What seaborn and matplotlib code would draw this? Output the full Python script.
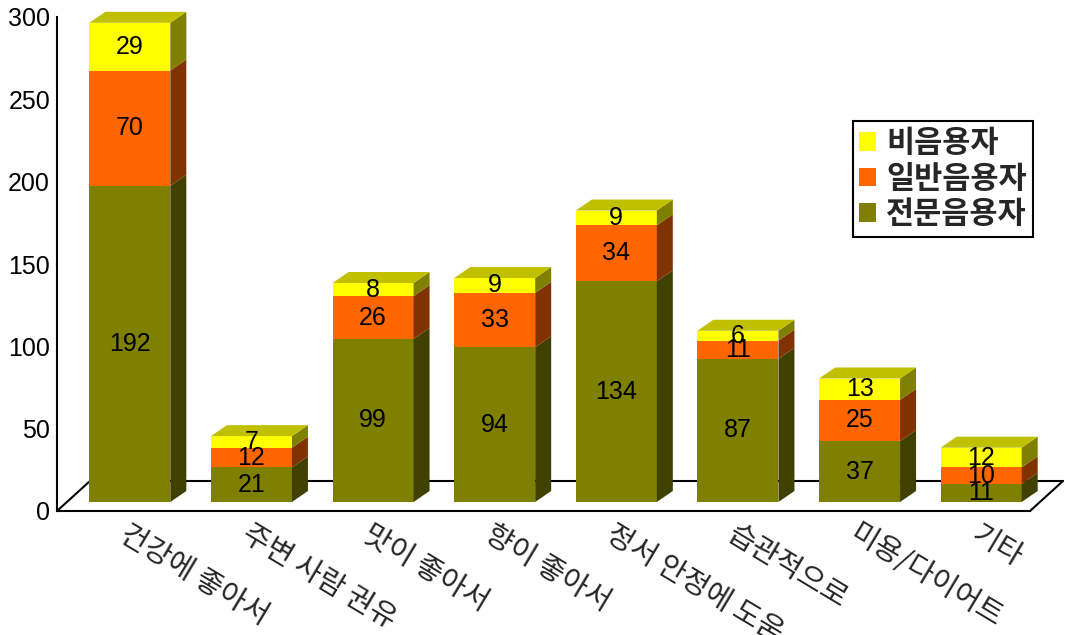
import numpy as np
import pandas as pd
import matplotlib
matplotlib.use("Agg")
import matplotlib.pyplot as plt
import matplotlib.transforms as mtransforms
from matplotlib.patches import Polygon, Patch
from matplotlib.lines import Line2D
import seaborn as sns

# ---- data -------------------------------------------------------------
categories = ["건강에 좋아서", "주변 사람 권유", "맛이 좋아서", "향이 좋아서",
              "정서 안정에 도움", "습관적으로", "미용/다이어트", "기타"]
expert = [192, 21, 99, 94, 134, 87, 37, 11]      # 전문음용자
regular = [70, 12, 26, 33, 34, 11, 25, 10]       # 일반음용자
non_user = [29, 7, 8, 9, 9, 6, 13, 12]           # 비음용자
series_names = ["전문음용자", "일반음용자", "비음용자"]   # stacking order, bottom first
y_ticks = [0, 50, 100, 150, 200, 250, 300]

# ---- style ------------------------------------------------------------
face_colors = ["#808000", "#FF6600", "#FFFF00"]
side_colors = ["#404000", "#803300", "#808000"]
top_color = "#C0C000"

sns.set_style("white")
plt.rcParams["font.family"] = ["Liberation Sans", "DejaVu Sans"]
KR = ["Noto Sans CJK KR", "DejaVu Sans"]

DPI = 100
W, H = 1065, 635
fig = plt.figure(figsize=(W / DPI, H / DPI), dpi=DPI)
ax = fig.add_axes([57 / W, (H - 511) / H, 973 / W, 494 / H])

df = pd.DataFrame({"category": categories,
                   "전문음용자": expert, "일반음용자": regular, "비음용자": non_user})

# pseudo-3D geometry in pixels
FRONT = (12, 9)     # bar front face, shifted back from the floor's front edge
DEPTH = (16, 11)    # bar depth
FLOOR = (33, 30)    # floor depth
BAR_W = 0.666


def shift(dx, dy):
    return mtransforms.ScaledTranslation(dx / DPI, dy / DPI, fig.dpi_scale_trans)


front_shift = shift(*FRONT)

# ---- front faces (stacked seaborn bars) --------------------------------
bottom = np.zeros(len(categories))
for name, fc in zip(series_names, face_colors):
    n_before = len(ax.patches)
    sns.barplot(data=df, x="category", y=name, bottom=bottom, color=fc,
                saturation=1, width=BAR_W, errorbar=None, ax=ax,
                linewidth=0, zorder=3)
    for p in ax.patches[n_before:]:
        p.set_transform(ax.transData + front_shift)
    bottom = bottom + df[name].to_numpy()

ax.set_xlim(-0.5, len(categories) - 0.5)
ax.set_ylim(y_ticks[0], y_ticks[-1])
ax.set_xlabel("")
ax.set_ylabel("")

to_px = ax.transData.transform
ident = mtransforms.IdentityTransform()


def px(x, y, dx=0, dy=0):
    X, Y = to_px((x, y))
    return (X + dx, Y + dy)


def parallelogram(a, b, d):
    return [a, b, (b[0] + d[0], b[1] + d[1]), (a[0] + d[0], a[1] + d[1])]


# ---- side and top faces -------------------------------------------------
cum = np.zeros(len(categories))
for name, sc in zip(series_names, side_colors):
    vals = df[name].to_numpy()
    for i, v in enumerate(vals):
        xr = i + BAR_W / 2
        a = px(xr, cum[i], *FRONT)
        b = px(xr, cum[i] + v, *FRONT)
        ax.add_patch(Polygon(parallelogram(a, b, DEPTH), closed=True,
                             facecolor=sc, edgecolor="none",
                             transform=ident, clip_on=False, zorder=3))
    cum = cum + vals

for i, t in enumerate(cum):
    l = px(i - BAR_W / 2, t, *FRONT)
    r = px(i + BAR_W / 2, t, *FRONT)
    ax.add_patch(Polygon(parallelogram(l, r, DEPTH), closed=True,
                         facecolor=top_color, edgecolor="none",
                         transform=ident, clip_on=False, zorder=3))

# ---- value labels --------------------------------------------------------
cum = np.zeros(len(categories))
for name in series_names:
    vals = df[name].to_numpy()
    for i, v in enumerate(vals):
        ax.text(i, cum[i] + v / 2, str(v), transform=ax.transData + front_shift,
                ha="center", va="center", fontsize=18, color="black",
                zorder=5, clip_on=False)
    cum = cum + vals

# ---- floor -------------------------------------------------------------
p0 = px(-0.5, 0)
p1 = px(len(categories) - 0.5, 0)
b0 = (p0[0] + FLOOR[0], p0[1] + FLOOR[1])
b1 = (p1[0] + FLOOR[0], p1[1] + FLOOR[1])
for (xa, ya), (xb, yb) in [(p0, b0), (b0, b1), (p1, b1)]:
    ax.add_line(Line2D([xa, xb], [ya, yb], color="black", lw=1.5,
                       transform=ident, clip_on=False, zorder=1))

# ---- axes ----------------------------------------------------------------
for s in ("top", "right"):
    ax.spines[s].set_visible(False)
for s in ("left", "bottom"):
    ax.spines[s].set_color("black")
    ax.spines[s].set_linewidth(1.5)
    ax.spines[s].set_zorder(2)

ax.set_yticks(y_ticks)
ax.set_yticklabels([str(t) for t in y_ticks])
ax.tick_params(axis="y", direction="out", length=4, width=1.5, pad=1,
               labelsize=18, colors="black")

ax.set_xticks(range(len(categories)))
ax.set_xticks(np.arange(len(categories)) + 0.5, minor=True)
ax.set_xticklabels(categories, rotation=-31, ha="left", va="top",
                   rotation_mode="anchor", fontfamily=KR, fontsize=21)
ax.tick_params(axis="x", which="major", length=0, pad=6)
ax.tick_params(axis="x", which="minor", direction="in", length=7, width=1.5,
               color="black")
for lab in ax.get_xticklabels():
    lab.set_transform(lab.get_transform() + shift(FRONT[0], 0))

# ---- legend ----------------------------------------------------------------
handles = [Patch(facecolor=c, edgecolor="none") for c in face_colors[::-1]]
leg = fig.legend(handles, series_names[::-1], loc="upper right",
                 bbox_to_anchor=(1033 / W, 1 - 121 / H),
                 bbox_transform=fig.transFigure, frameon=True, fancybox=False,
                 edgecolor="black", framealpha=1,
                 prop={"family": KR, "size": 22, "weight": "bold"},
                 handlelength=0.56, handleheight=0.56, handletextpad=0.33,
                 labelspacing=0.12, borderpad=0.2, borderaxespad=0)
leg.get_frame().set_linewidth(1.5)

fig.savefig("out.png", dpi=DPI)
